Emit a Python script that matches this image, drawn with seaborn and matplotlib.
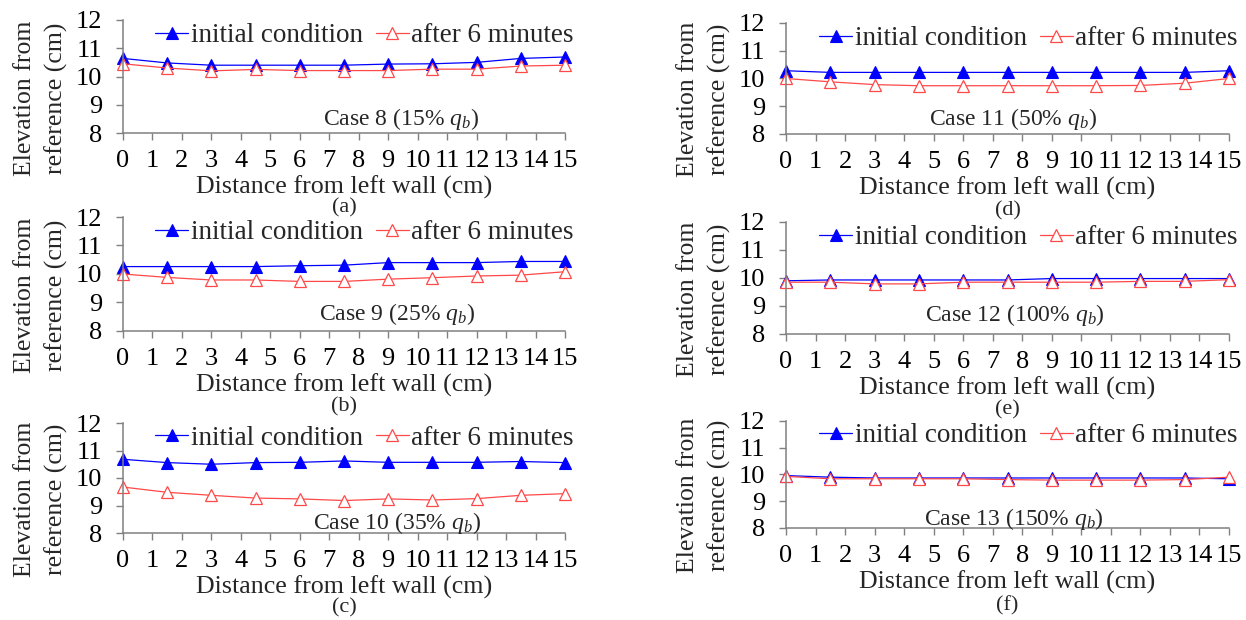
import matplotlib
matplotlib.use("Agg")
import matplotlib.pyplot as plt
import numpy as np
import pandas as pd
import seaborn as sns

# ---------------- data ----------------
distance = [0, 1.5, 3, 4.5, 6, 7.5, 9, 10.5, 12, 13.5, 15]
series_names = ["initial condition", "after 6 minutes"]

case_labels = ["Case 8 (15% $q_b$)", "Case 9 (25% $q_b$)", "Case 10 (35% $q_b$)",
               "Case 11 (50% $q_b$)", "Case 12 (100% $q_b$)", "Case 13 (150% $q_b$)"]
panel_letters = ["(a)", "(b)", "(c)", "(d)", "(e)", "(f)"]

initial_case8 = [10.64, 10.48, 10.40, 10.40, 10.40, 10.40, 10.44, 10.45, 10.50, 10.64, 10.69]
after_case8 = [10.45, 10.30, 10.20, 10.25, 10.21, 10.21, 10.21, 10.26, 10.26, 10.37, 10.40]
initial_case9 = [10.26, 10.26, 10.26, 10.26, 10.29, 10.31, 10.40, 10.40, 10.40, 10.44, 10.44]
after_case9 = [10.00, 9.88, 9.79, 9.79, 9.74, 9.74, 9.82, 9.87, 9.93, 9.96, 10.08]
initial_case10 = [10.68, 10.56, 10.50, 10.56, 10.57, 10.62, 10.57, 10.57, 10.57, 10.60, 10.56]
after_case10 = [9.67, 9.48, 9.37, 9.27, 9.24, 9.18, 9.24, 9.20, 9.25, 9.37, 9.43]
initial_case11 = [10.28, 10.22, 10.22, 10.22, 10.22, 10.22, 10.22, 10.22, 10.22, 10.22, 10.28]
after_case11 = [10.00, 9.88, 9.78, 9.74, 9.74, 9.74, 9.74, 9.74, 9.75, 9.83, 10.00]
initial_case12 = [9.90, 9.93, 9.93, 9.93, 9.93, 9.93, 9.98, 9.98, 9.98, 9.98, 9.98]
after_case12 = [9.85, 9.85, 9.79, 9.79, 9.85, 9.85, 9.85, 9.85, 9.88, 9.88, 9.94]
initial_case13 = [9.96, 9.90, 9.87, 9.87, 9.87, 9.87, 9.87, 9.87, 9.87, 9.87, 9.84]
after_case13 = [9.93, 9.84, 9.84, 9.84, 9.84, 9.81, 9.79, 9.79, 9.79, 9.81, 9.90]

initial_all = [initial_case8, initial_case9, initial_case10,
               initial_case11, initial_case12, initial_case13]
after_all = [after_case8, after_case9, after_case10,
             after_case11, after_case12, after_case13]

x_ticks = list(range(0, 16))
y_ticks = [8, 9, 10, 11, 12]

# ---------------- style ----------------
sns.set_style("ticks")
plt.rcParams["font.family"] = ["Liberation Serif", "DejaVu Serif"]
plt.rcParams["mathtext.fontset"] = "custom"
plt.rcParams["mathtext.rm"] = "Liberation Serif"
plt.rcParams["mathtext.it"] = "Liberation Serif:italic"

W, H = 1246, 620
fig = plt.figure(figsize=(W / 100, H / 100), dpi=100)
fig.patch.set_facecolor("white")

# pixel boxes: (left, right, top, bottom)
boxes = [
    (123, 565, 20, 133),
    (123, 565, 217, 331),
    (123, 565, 423, 533),
    (786, 1229, 23, 134),
    (786, 1229, 222, 334),
    (786, 1229, 421, 528),
]
case_pos = [(9.45, 8.5), (9.3, 8.6), (9.3, 8.38), (7.7, 8.55), (7.75, 8.68), (7.7, 8.32)]
letter_off = [75, 76, 75, 77, 76, 78]

blue = "#0000ff"
red = "#ff4848"
gray = "#808080"

for i in range(6):
    l, r, t, b = boxes[i]
    ax = fig.add_axes([l / W, 1 - b / H, (r - l) / W, (b - t) / H])
    df = pd.DataFrame({
        "Distance": distance * 2,
        "Elevation": initial_all[i] + after_all[i],
        "series": [series_names[0]] * len(distance) + [series_names[1]] * len(distance),
    })
    d0 = df[df["series"] == series_names[0]]
    d1 = df[df["series"] == series_names[1]]
    sns.lineplot(data=d0, x="Distance", y="Elevation", ax=ax, color=blue,
                 marker="^", markersize=9, markerfacecolor=blue, markeredgecolor=blue,
                 markeredgewidth=0.8, linewidth=0.9, label=series_names[0], clip_on=False)
    sns.lineplot(data=d1, x="Distance", y="Elevation", ax=ax, color=red,
                 marker="^", markersize=9, markerfacecolor="white", markeredgecolor=red,
                 markeredgewidth=0.9, linewidth=0.9, label=series_names[1], clip_on=False)

    ax.set_xlim(0, 15)
    ax.set_ylim(8, 12)
    ax.set_xticks(x_ticks)
    ax.set_yticks(y_ticks)
    ax.tick_params(axis="both", direction="out", length=5, width=1.0, color=gray,
                   labelsize=19, labelcolor="black")
    ax.tick_params(axis="x", pad=7)
    ax.tick_params(axis="y", pad=10)
    for s in ["top", "right"]:
        ax.spines[s].set_visible(False)
    for s in ["left", "bottom"]:
        ax.spines[s].set_color(gray)
        ax.spines[s].set_linewidth(1.1)
    ax.set_facecolor("none")

    ax.set_xlabel("Distance from left wall (cm)", fontsize=18.7, labelpad=3)
    ax.set_ylabel("Elevation from\nreference (cm)", fontsize=18.5, va="center",
                  linespacing=1.5)
    ax.yaxis.set_label_coords(-0.185, 0.31)

    ax.text(case_pos[i][0], case_pos[i][1], case_labels[i], fontsize=17,
            ha="center", va="center")
    ax.text(0.5, -letter_off[i] / (b - t), panel_letters[i], transform=ax.transAxes,
            fontsize=16, ha="center", va="center")

    ax.legend(loc="center right", bbox_to_anchor=(1.02, 0.86), ncol=2,
              frameon=False, fontsize=19.5, handlelength=1.2, handletextpad=0.1,
              columnspacing=0.5, borderpad=0, borderaxespad=0)

fig.savefig("out.png", dpi=100, facecolor="white")
